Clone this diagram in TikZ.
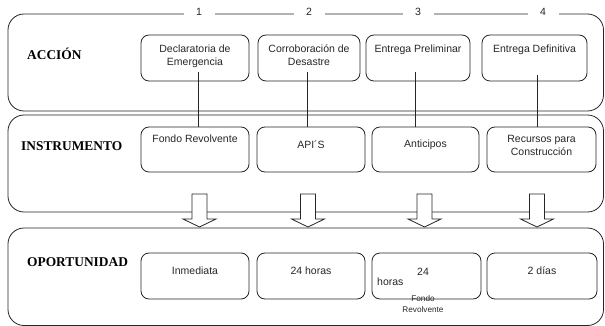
\documentclass[tikz,border=0pt]{standalone}
\usepackage{fontspec}
\setmainfont{Liberation Serif}
\newfontfamily\arialfont{Liberation Sans}
\begin{document}
\begin{tikzpicture}[x=1pt,y=-1pt,
  ln/.style={draw=black!85, line width=0.8pt},
  panel/.style={ln, rounded corners=16pt, inner sep=0pt},
  bx/.style={ln, rounded corners=8pt, inner sep=0pt},
  hdr/.style={font=\fontsize{13.4}{16}\selectfont\bfseries, anchor=base west, inner sep=0pt},
  txt/.style={font=\arialfont\fontsize{10.5}{13}\selectfont, align=center, anchor=north, inner sep=0pt, text=black!85},
  smalltxt/.style={font=\arialfont\fontsize{8.2}{11}\selectfont, align=center, anchor=north, inner sep=0pt, text=black!85},
  num/.style={font=\arialfont\fontsize{10.5}{13}\selectfont, fill=white, inner sep=0pt, minimum width=31pt, minimum height=10pt, text=black!85},
  conn/.style={draw=black!85, line width=0.8pt},
  blockarrow/.pic={\draw[ln, fill=white] (-7.5,0) -- (7.5,0) -- (7.5,25) -- (16.5,25) -- (0,33) -- (-16.5,25) -- (-7.5,25) -- cycle;}
]
\useasboundingbox (0,0) rectangle (605,326);

% panels
\node[panel, minimum width=595.5pt, minimum height=97pt] (P1) at (305.75,62.5) {};
\node[panel, minimum width=595.5pt, minimum height=97pt] (P2) at (305.75,163.5) {};
\node[panel, minimum width=595.5pt, minimum height=97.5pt] (P3) at (305.75,276.75) {};

% step numbers on the top edge
\node[num] (n1) at (199,11.5) {1};
\node[num] (n2) at (309,11.5) {2};
\node[num] (n3) at (418,11.5) {3};
\node[num] (n4) at (543,11.5) {4};

% headers
\node[hdr] (h1) at (27,59.5) {ACCIÓN};
\node[hdr] (h2) at (21,150.5) {INSTRUMENTO};
\node[hdr] (h3) at (27,266.5) {OPORTUNIDAD};

% row 1 boxes
\node[bx, minimum width=108pt, minimum height=46pt] (a1) at (195,58) {};
\node[bx, minimum width=102pt, minimum height=46pt] (a2) at (309,58) {};
\node[bx, minimum width=104pt, minimum height=46pt] (a3) at (418,58) {};
\node[bx, minimum width=105pt, minimum height=46pt] (a4) at (534.5,58) {};
\node[txt] (ta1) at ([yshift=-10pt]a1.north) {Declaratoria de\\Emergencia};
\node[txt] (ta2) at ([yshift=-10pt]a2.north) {Corroboración de\\Desastre};
\node[txt] (ta3) at ([yshift=-10pt]a3.north) {Entrega Preliminar};
\node[txt] (ta4) at ([yshift=-10pt]a4.north) {Entrega Definitiva};

% row 2 boxes
\node[bx, minimum width=108pt, minimum height=45pt] (i1) at (195,149.5) {};
\node[bx, minimum width=108pt, minimum height=45pt] (i2) at (311,149.5) {};
\node[bx, minimum width=107pt, minimum height=45pt] (i3) at (425.5,149.5) {};
\node[bx, minimum width=109pt, minimum height=45pt] (i4) at (541.5,149.5) {};
\node[txt] (ti1) at ([yshift=-8.5pt]i1.north) {Fondo Revolvente};
\node[txt] (ti2) at ([yshift=-13.5pt]i2.north) {API´S};
\node[txt] (ti3) at ([yshift=-13.5pt]i3.north) {Anticipos};
\node[txt] (ti4) at ([yshift=-8.5pt]i4.north) {Recursos para\\Construcción};

% row 3 boxes
\node[bx, minimum width=108pt, minimum height=46pt] (o1) at (195,276) {};
\node[bx, minimum width=108pt, minimum height=46pt] (o2) at (311,276) {};
\node[bx, minimum width=109pt, minimum height=46pt] (o3) at (426.5,276) {};
\node[bx, minimum width=110pt, minimum height=46pt] (o4) at (542,276) {};
\node[txt] (to1) at ([yshift=-14.5pt]o1.north) {Inmediata};
\node[txt] (to2) at ([yshift=-14.5pt]o2.north) {24 horas};
\node[txt] (to3) at (423,267.5) {24};
\node[txt, anchor=north west] (to3b) at (377,277.5) {horas};
\node[smalltxt] (to3c) at (423,295) {Fondo\\Revolvente};
\node[txt] (to4) at ([yshift=-14pt]o4.north) {2 días};

% connectors from actions to instruments
\coordinate (c1) at (198,72);
\coordinate (c2) at (307.5,72);
\coordinate (c3) at (415,72);
\coordinate (c4) at (537,75);
\draw[conn] (c1) -- (c1 |- i1.north);
\draw[conn] (c2) -- (c2 |- i2.north);
\draw[conn] (c3) -- (c3 |- i3.north);
\draw[conn] (c4) -- (c4 |- i4.north);

% block arrows from instruments to opportunity
\pic at (199.5,194) {blockarrow};
\pic at (308,194) {blockarrow};
\pic at (424.5,194) {blockarrow};
\pic at (537,194) {blockarrow};
\end{tikzpicture}
\end{document}
